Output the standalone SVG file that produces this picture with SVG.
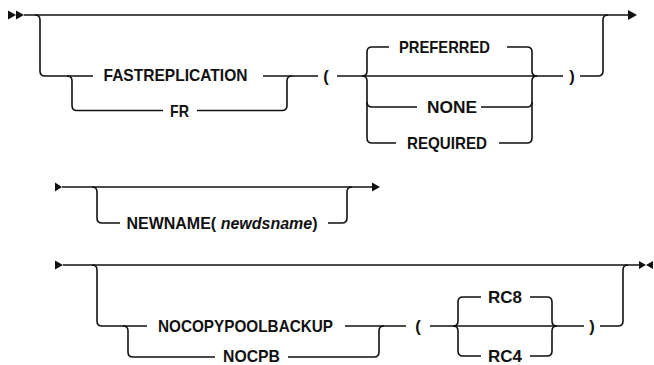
<svg xmlns="http://www.w3.org/2000/svg" width="654" height="365" viewBox="0 0 654 365">
<style>
.l{fill:none;stroke:#111;stroke-width:1.6;stroke-linejoin:round}
.a{fill:#111;stroke:none}
.t{font-family:"Liberation Sans",Arial,sans-serif;font-size:16.5px;font-weight:bold;fill:#111;text-anchor:middle}
.i{font-style:italic}
</style>
<rect width="654" height="365" fill="#fff"/>
<g id="connectors">
<!-- row 1 -->
<polygon class="a" points="8,10.5 16,15 8,19.5"/>
<polygon class="a" points="16,10.5 24,15 16,19.5"/>
<path class="l" d="M24,15 H629"/>
<polygon class="a" points="628,10 637,15 628,20"/>
<path class="l" d="M35,15 Q40,15 40,20 V71 Q40,76 45,76 H93"/>
<path class="l" d="M67,76 Q72,76 72,81 V105.5 Q72,110.5 77,110.5 H163"/>
<path class="l" d="M197,110.5 H282 Q287,110.5 287,105.5 V81 Q287,76 292,76"/>
<path class="l" d="M263,76 H318"/>
<path class="l" d="M337,76 H563"/>
<path class="l" d="M362,76 Q367,76 367,71 V52 Q367,47 372,47 H389"/>
<path class="l" d="M507,47 H527 Q532,47 532,52 V71 Q532,76 537,76"/>
<path class="l" d="M362,76 Q367,76 367,81 V138 Q367,143 372,143 H396"/>
<path class="l" d="M367,102 Q367,107 372,107 H417"/>
<path class="l" d="M481,107 H527 Q532,107 532,102"/>
<path class="l" d="M499,143 H527 Q532,143 532,138 V81 Q532,76 537,76"/>
<path class="l" d="M580,76 H598 Q603,76 603,71 V20 Q603,15 608,15"/>
<!-- row 2 -->
<polygon class="a" points="55,182.5 62,187 55,191.5"/>
<path class="l" d="M62,187 H373"/>
<polygon class="a" points="372,182.5 380,187 372,191.5"/>
<path class="l" d="M92,187 Q97,187 97,192 V218 Q97,223 102,223 H120"/>
<path class="l" d="M328,223 H342 Q347,223 347,218 V192 Q347,187 352,187"/>
<!-- row 3 -->
<polygon class="a" points="55,260.5 63,265 55,269.5"/>
<path class="l" d="M63,265 H640"/>
<polygon class="a" points="639,261 646,265 639,269"/>
<polygon class="a" points="653,261 646,265 653,269"/>
<path class="l" d="M92,265 Q97,265 97,270 V321 Q97,326 102,326 H147"/>
<path class="l" d="M123,326 Q128,326 128,331 V352 Q128,357 133,357 H215"/>
<path class="l" d="M288,357 H374 Q379,357 379,352 V331 Q379,326 384,326"/>
<path class="l" d="M345,326 H406"/>
<path class="l" d="M430,326 H584"/>
<path class="l" d="M453,326 Q458,326 458,321 V302 Q458,297 463,297 H481"/>
<path class="l" d="M530,297 H547 Q552,297 552,302 V321 Q552,326 557,326"/>
<path class="l" d="M453,326 Q458,326 458,331 V351 Q458,356 463,356 H481"/>
<path class="l" d="M530,356 H547 Q552,356 552,351 V331 Q552,326 557,326"/>
<path class="l" d="M600,326 H618 Q623,326 623,321 V270 Q623,265 628,265"/>
</g>
<g id="n-fastreplication"><text class="t" x="175.5" y="81" textLength="144" lengthAdjust="spacingAndGlyphs">FASTREPLICATION</text></g>
<g id="n-fr"><text class="t" x="179.5" y="116.5" textLength="19" lengthAdjust="spacingAndGlyphs">FR</text></g>
<g id="n-lparen1"><text class="t" x="326" y="81.5">(</text></g>
<g id="n-preferred"><text class="t" x="444.5" y="52.5" textLength="91" lengthAdjust="spacingAndGlyphs">PREFERRED</text></g>
<g id="n-none"><text class="t" x="452" y="112.5" textLength="50" lengthAdjust="spacingAndGlyphs">NONE</text></g>
<g id="n-required"><text class="t" x="447" y="148.5" textLength="80" lengthAdjust="spacingAndGlyphs">REQUIRED</text></g>
<g id="n-rparen1"><text class="t" x="572" y="81.5">)</text></g>
<g id="n-newname"><text class="t" x="222" y="229" style="font-size:16px">NEWNAME( <tspan class="i">newdsname</tspan>)</text></g>
<g id="n-nocopypoolbackup"><text class="t" x="245.5" y="331.5" textLength="175" lengthAdjust="spacingAndGlyphs">NOCOPYPOOLBACKUP</text></g>
<g id="n-nocpb"><text class="t" x="251.5" y="361.5" textLength="57" lengthAdjust="spacingAndGlyphs">NOCPB</text></g>
<g id="n-lparen3"><text class="t" x="418" y="331.5">(</text></g>
<g id="n-rc8"><text class="t" x="505" y="302.5" textLength="34" lengthAdjust="spacingAndGlyphs">RC8</text></g>
<g id="n-rc4"><text class="t" x="505" y="361.5" textLength="34" lengthAdjust="spacingAndGlyphs">RC4</text></g>
<g id="n-rparen3"><text class="t" x="592" y="331.5">)</text></g>
</svg>
